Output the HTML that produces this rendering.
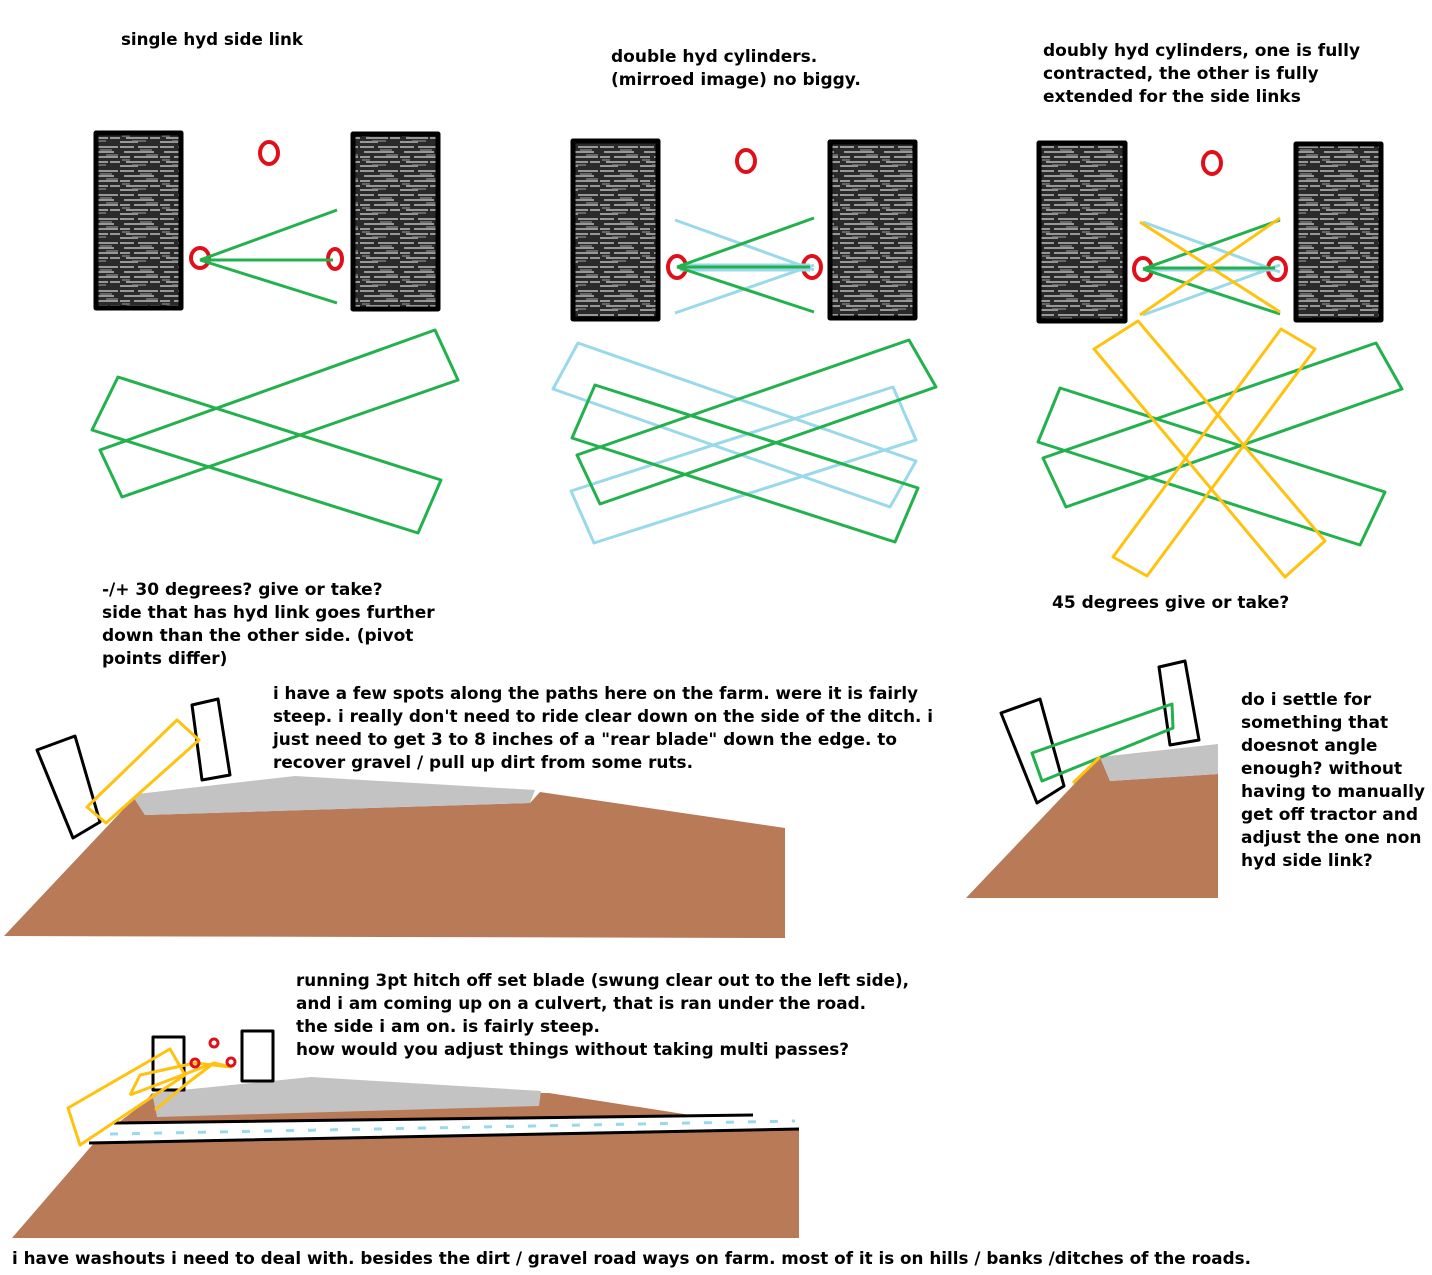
<!DOCTYPE html>
<html><head><meta charset="utf-8"><style>
html,body{margin:0;padding:0;background:#fff}
svg{display:block}
text{font-family:"DejaVu Sans","Liberation Sans",sans-serif;font-size:17px;font-weight:bold;fill:#000}
</style></head><body>
<svg width="1432" height="1275" viewBox="0 0 1432 1275" xmlns="http://www.w3.org/2000/svg">
<defs>
<pattern id="tr" width="40" height="24" patternUnits="userSpaceOnUse">
<rect width="40" height="24" fill="#2a2a2a"/>
<path d="M0 3h14M18 3h20M4 8h30M0 13h10M14 13h24M6 18h22M30 18h10M0 22h18" stroke="#bdbdbd" stroke-width="1.6"/>
<path d="M20 6h12M2 16h8M26 11h12M12 21h14" stroke="#7a7a7a" stroke-width="1.5"/>
</pattern>
</defs>
<g fill="none" stroke-linejoin="round">
<text x="121" y="45" textLength="182" lengthAdjust="spacingAndGlyphs">single hyd side link</text>
<text x="611" y="62">double hyd cylinders.</text>
<text x="611" y="85">(mirroed image) no biggy.</text>
<text x="1043" y="56">doubly hyd cylinders, one is fully</text>
<text x="1043" y="79">contracted, the other is fully</text>
<text x="1043" y="102">extended for the side links</text>
<text x="102" y="595">-/+ 30 degrees? give or take?</text>
<text x="102" y="618">side that has hyd link goes further</text>
<text x="102" y="641">down than the other side. (pivot</text>
<text x="102" y="664">points differ)</text>
<text x="1052" y="608">45 degrees give or take?</text>
<text x="273" y="699" textLength="645" lengthAdjust="spacingAndGlyphs">i have a few spots along the paths here on the farm. were it is fairly</text>
<text x="273" y="722" textLength="660" lengthAdjust="spacingAndGlyphs">steep. i really don't need to ride clear down on the side of the ditch. i</text>
<text x="273" y="745" textLength="624" lengthAdjust="spacingAndGlyphs">just need to get 3 to 8 inches of a "rear blade" down the edge. to</text>
<text x="273" y="768" textLength="420" lengthAdjust="spacingAndGlyphs">recover gravel / pull up dirt from some ruts.</text>
<text x="1241" y="705">do i settle for</text>
<text x="1241" y="728">something that</text>
<text x="1241" y="751">doesnot angle</text>
<text x="1241" y="774">enough?  without</text>
<text x="1241" y="797">having to manually</text>
<text x="1241" y="820">get off tractor and</text>
<text x="1241" y="843">adjust the one non</text>
<text x="1241" y="866">hyd side link?</text>
<text x="296" y="986" textLength="613" lengthAdjust="spacingAndGlyphs">running 3pt hitch off set blade (swung clear out to the left side),</text>
<text x="296" y="1009" textLength="570" lengthAdjust="spacingAndGlyphs">and i am coming up on a culvert, that is ran under the road.</text>
<text x="296" y="1032">the side i am on. is fairly steep.</text>
<text x="296" y="1055" textLength="553" lengthAdjust="spacingAndGlyphs">how would you adjust things without taking multi passes?</text>
<text x="12" y="1264" textLength="1239" lengthAdjust="spacingAndGlyphs">i have washouts i need to deal with. besides the dirt / gravel road ways on farm. most of it is on hills / banks /ditches of the roads.</text>

<g stroke="#000" stroke-width="5" fill="url(#tr)">
<rect x="96" y="133" width="85" height="175"/>
<rect x="353" y="134" width="85" height="175"/>
<rect x="573" y="141" width="85" height="178"/>
<rect x="830" y="142" width="85" height="176"/>
<rect x="1039" y="143" width="86" height="178"/>
<rect x="1296" y="144" width="85" height="176"/>
</g>
<g stroke="#e0101a" stroke-width="4">
<ellipse cx="269" cy="153" rx="9" ry="11"/>
<ellipse cx="200" cy="258" rx="9" ry="10"/>
<ellipse cx="335" cy="259" rx="7" ry="10"/>
<ellipse cx="746" cy="161" rx="9" ry="11"/>
<ellipse cx="677" cy="267" rx="9" ry="11"/>
<ellipse cx="812" cy="267" rx="9" ry="11"/>
<ellipse cx="1212" cy="163" rx="9" ry="11"/>
<ellipse cx="1143" cy="269" rx="9" ry="11"/>
<ellipse cx="1277" cy="269" rx="9" ry="11"/>
</g>
<g stroke="#22b14c" stroke-width="3">
<path d="M200 260L337 210M200 260L337 303M200 260H333"/>
<polygon points="100,450 435,330 458,380 122,497"/>
<polygon points="118,377 441,480 418,533 92,430"/>
</g>
<g stroke="#99d9ea" stroke-width="3">
<path d="M675 220L814 270M675 313L814 265M680 265H810M680 270H810"/>
<polygon points="578,343 916,461 890,507 553,389"/>
<polygon points="893,387 916,440 594,543 571,491"/>
</g>
<g stroke="#22b14c" stroke-width="3">
<path d="M677 267L814 218M677 267L814 312M680 267H810"/>
<polygon points="595,385 918,488 895,542 572,438"/>
<polygon points="909,340 936,387 600,504 577,455"/>
</g>
<g stroke="#99d9ea" stroke-width="3">
<path d="M1143 222L1280 272M1143 315L1280 265M1146 270H1275"/>
</g>
<g stroke="#22b14c" stroke-width="3">
<path d="M1143 269L1280 220M1143 269L1280 314M1146 268H1275"/>
<polygon points="1060,388 1385,492 1360,545 1038,442"/>
<polygon points="1376,343 1402,389 1066,507 1043,458"/>
</g>
<g stroke="#ffc20e" stroke-width="3">
<path d="M1140 222L1280 312M1140 315L1280 218"/>
<polygon points="1138,321 1325,541 1285,577 1094,349"/>
<polygon points="1281,329 1315,349 1147,576 1113,557"/>
</g>

<polygon fill="#b97a57" stroke="none" points="4,936 134,798 145,815 530,803 540,792 785,828 785,938"/>
<polygon fill="#c3c3c3" stroke="none" points="134,798 137,794 295,776 535,790 530,803 145,815"/>
<g stroke="#000" stroke-width="3">
<polygon points="37,750 75,736 100,822 73,838"/>
<polygon points="192,705 218,699 230,775 202,780"/>
</g>
<polygon stroke="#ffc20e" stroke-width="3" points="177,720 199,740 106,823 87,807"/>

<polygon fill="#b97a57" stroke="none" points="966,898 1100,757 1110,781 1218,774 1218,898"/>
<polygon fill="#c3c3c3" stroke="none" points="1100,757 1218,744 1218,774 1110,781"/>
<g stroke="#000" stroke-width="3">
<polygon points="1001,713 1040,699 1064,786 1037,803"/>
<polygon points="1159,667 1185,661 1199,740 1170,745"/>
</g>
<polygon stroke="#22b14c" stroke-width="3" points="1032,753 1172,704 1173,728 1042,781"/>
<path d="M1073 783L1100 757" stroke="#ffc20e" stroke-width="3"/>

<polygon fill="#b97a57" stroke="none" points="12,1238 94,1143 799,1129 799,1238"/>
<polygon fill="#b97a57" stroke="none" points="118,1123 144,1103 152,1093 549,1093 690,1115 753,1115"/>
<polygon fill="#c3c3c3" stroke="none" points="152,1093 311,1077 541,1091 539,1106 157,1117"/>
<g stroke="#000" stroke-width="3">
<path d="M114 1123L753 1115M89 1143L799 1129"/>
</g>
<g stroke="#99d9ea" stroke-width="3" stroke-dasharray="8 14">
<path d="M110 1134L795 1121"/>
</g>
<g stroke="#000" stroke-width="3">
<rect x="153" y="1037" width="31" height="53"/>
<rect x="242" y="1031" width="31" height="50"/>
</g>
<g stroke="#ffc20e" stroke-width="3">
<polygon points="170,1049 185,1075 80,1145 68,1108"/>
<path d="M130 1095L214 1063L231 1067L195 1063L140 1075L130 1095M214 1063L185 1085L155 1110"/>
</g>
<g stroke="#e0101a" stroke-width="3">
<circle cx="214" cy="1043" r="4"/>
<circle cx="195" cy="1063" r="4"/>
<circle cx="231" cy="1062" r="4"/>
</g>
</g>
</svg>
</body></html>
